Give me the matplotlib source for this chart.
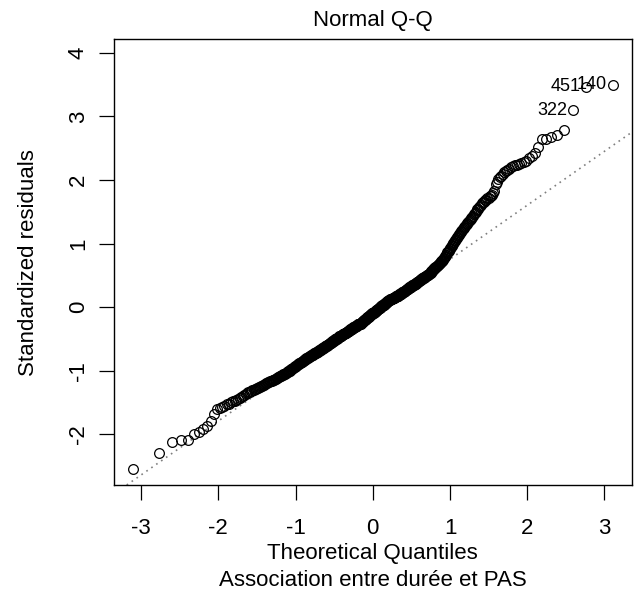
import numpy as np
import matplotlib
matplotlib.use("Agg")
import matplotlib.pyplot as plt
from statistics import NormalDist

# standardized residuals, sorted (n = 530)
std_resid = [
    -2.54, -2.29, -2.13, -2.09, -2.09, -1.99, -1.97, -1.92, -1.87, -1.80, -1.68,
    -1.61, -1.59, -1.57, -1.55, -1.53, -1.52, -1.50,
    -1.485, -1.47, -1.455, -1.44, -1.43, -1.41, -1.40, -1.38, -1.37, -1.35, -1.34,
    -1.33, -1.32, -1.31, -1.30, -1.295, -1.29, -1.28, -1.27, -1.26, -1.25, -1.24,
    -1.235, -1.225, -1.22, -1.21,
    -1.20, -1.19, -1.185, -1.18, -1.17, -1.165, -1.16, -1.15, -1.145, -1.14, -1.13,
    -1.125, -1.12, -1.11, -1.105, -1.10, -1.09, -1.085, -1.08, -1.075,
    -1.07, -1.06, -1.055, -1.05, -1.04, -1.03, -1.025, -1.02, -1.01, -1.005, -1.00,
    -0.99, -0.98, -0.975, -0.97, -0.96, -0.955, -0.95, -0.94, -0.93, -0.925, -0.92,
    -0.91, -0.90, -0.895, -0.89, -0.88,
    -0.885, -0.88, -0.87, -0.865, -0.86, -0.85, -0.845, -0.84, -0.83, -0.825, -0.82,
    -0.81, -0.805, -0.80, -0.795, -0.79, -0.78, -0.775,
    -0.78, -0.77, -0.77, -0.76, -0.76, -0.75, -0.75, -0.74, -0.74, -0.73, -0.73,
    -0.72, -0.72, -0.72, -0.71, -0.71, -0.70, -0.70, -0.69, -0.69, -0.68, -0.68,
    -0.67, -0.67, -0.66, -0.66, -0.65, -0.65, -0.64, -0.64, -0.64, -0.63, -0.63,
    -0.62, -0.62, -0.61, -0.61, -0.60, -0.60, -0.59, -0.59, -0.58, -0.58,
    -0.57, -0.57, -0.57, -0.56, -0.56, -0.55, -0.55, -0.54, -0.54, -0.53, -0.53,
    -0.52, -0.52, -0.51, -0.51, -0.50, -0.50, -0.50, -0.49, -0.49, -0.48, -0.48,
    -0.47, -0.47, -0.46,
    -0.46, -0.46, -0.45, -0.45, -0.45, -0.44, -0.44, -0.43, -0.43, -0.43, -0.42,
    -0.42, -0.41, -0.41, -0.41, -0.40, -0.40, -0.39, -0.39, -0.39, -0.38, -0.38,
    -0.37, -0.37, -0.37, -0.36, -0.36, -0.35, -0.35, -0.35, -0.34, -0.34, -0.33,
    -0.33, -0.33, -0.32, -0.32, -0.31, -0.31, -0.31, -0.30, -0.30, -0.29, -0.29,
    -0.29, -0.28, -0.28, -0.27, -0.27, -0.27, -0.26, -0.26,
    -0.27, -0.26, -0.26, -0.25, -0.25, -0.24, -0.24, -0.23, -0.23, -0.22, -0.22,
    -0.21, -0.21, -0.20, -0.20, -0.19, -0.19, -0.18, -0.18, -0.17, -0.17, -0.16,
    -0.16, -0.15, -0.15, -0.14, -0.14, -0.13, -0.13, -0.12, -0.12, -0.11, -0.11,
    -0.10, -0.10, -0.10,
    -0.10, -0.09, -0.09, -0.08, -0.08, -0.07, -0.07, -0.06, -0.06, -0.05, -0.05,
    -0.04, -0.04, -0.03, -0.03, -0.03, -0.02, -0.02, -0.01, -0.01, 0.00, 0.00,
    0.01, 0.01, 0.02, 0.02, 0.03, 0.03, 0.04, 0.04, 0.04, 0.05, 0.05, 0.06, 0.06,
    0.07, 0.07, 0.08, 0.08, 0.09, 0.09, 0.10, 0.10, 0.11,
    0.11, 0.11, 0.11, 0.12, 0.12, 0.12, 0.13, 0.13, 0.13, 0.14, 0.14, 0.14, 0.15,
    0.15, 0.15, 0.16, 0.16, 0.16, 0.17, 0.17, 0.17,
    0.17, 0.17, 0.18, 0.18, 0.19, 0.19, 0.20, 0.20, 0.20, 0.21, 0.21, 0.22, 0.22,
    0.23, 0.23, 0.24, 0.24, 0.24, 0.25, 0.25, 0.26, 0.26, 0.27, 0.27, 0.28, 0.28,
    0.28, 0.29, 0.29, 0.30, 0.30, 0.31, 0.31, 0.32, 0.32, 0.32, 0.33, 0.33, 0.34, 0.34,
    0.34, 0.35, 0.35, 0.36, 0.36, 0.37, 0.37, 0.38, 0.38, 0.39, 0.39, 0.40, 0.40,
    0.41, 0.41, 0.42, 0.42, 0.43, 0.43, 0.44, 0.44, 0.45, 0.45, 0.46, 0.46, 0.47,
    0.47, 0.48, 0.48, 0.49, 0.49, 0.50, 0.50, 0.51, 0.51, 0.52, 0.52,
    0.53, 0.53, 0.54, 0.55, 0.56, 0.56, 0.575, 0.585, 0.595, 0.60, 0.61, 0.62, 0.63,
    0.63, 0.64, 0.65, 0.66, 0.665, 0.675, 0.685, 0.695, 0.70, 0.71, 0.72, 0.73, 0.73,
    0.74, 0.76, 0.77, 0.785, 0.80, 0.815, 0.825, 0.845, 0.86, 0.87, 0.89, 0.90,
    0.915, 0.935, 0.945, 0.96, 0.98,
    0.99, 1.01, 1.02, 1.04, 1.05, 1.07, 1.09, 1.10, 1.12, 1.13, 1.15, 1.16, 1.18,
    1.20, 1.21,
    1.23, 1.24, 1.26, 1.28, 1.29, 1.31, 1.32, 1.34, 1.36, 1.37, 1.39, 1.40, 1.42,
    1.44, 1.46, 1.48, 1.50, 1.52, 1.54, 1.55, 1.57, 1.59, 1.61, 1.63,
    1.65, 1.66, 1.68, 1.69, 1.71, 1.72, 1.74, 1.75, 1.76,
    1.79, 1.83, 1.93, 1.97, 2.01, 2.04, 2.07, 2.09, 2.12, 2.14, 2.16, 2.18, 2.20,
    2.22, 2.23, 2.24, 2.25, 2.26, 2.28, 2.30, 2.34, 2.38, 2.43, 2.52, 2.65, 2.65,
    2.68, 2.70, 2.79, 3.10, 3.47, 3.50,
]
# observation numbers of the three largest residuals (3rd, 2nd, 1st)
extreme_ids = ["322", "451", "140"]
x_ticks = [-3, -2, -1, 0, 1, 2, 3]
y_ticks = [-2, -1, 0, 1, 2, 3, 4]

plt.rcParams['font.family'] = ['Liberation Sans', 'DejaVu Sans']
plt.rcParams['axes.unicode_minus'] = False

y = np.sort(np.array(std_resid))
n = len(y)
nd = NormalDist()
x = np.array([nd.inv_cdf((i - 0.5) / n) for i in range(1, n + 1)])

fig = plt.figure(figsize=(6.36, 5.96), dpi=100)
left, bottom, width, height = 0.1786, 0.1862, 0.8151, 0.7478
ax = fig.add_axes([left, bottom, width, height])

ax.plot(x, y, 'o', mfc='none', mec='black', ms=7.0, mew=0.9, zorder=3)

# reference line through the quartiles (like qqline)
q1, q3 = np.quantile(y, [0.25, 0.75])
z1, z3 = nd.inv_cdf(0.25), nd.inv_cdf(0.75)
slope = (q3 - q1) / (z3 - z1)
icpt = q1 - slope * z1
ax.axline((0, icpt), slope=slope, color='#7f7f7f', lw=1.2, ls=(0, (1.0, 2.6)), zorder=2)

for k, lab in enumerate(extreme_ids):
    j = n - len(extreme_ids) + k
    ax.annotate(lab, (x[j], y[j]), xytext=(-4, 0), textcoords='offset points',
                ha='right', va='center', fontsize=13)

# R-style limits: 4% padding, extra room on top for labels
xr = x.max() - x.min()
ax.set_xlim(x.min() - 0.04 * xr, x.max() + 0.04 * xr)
ylo, yhi = y.min(), y.max() + 0.075 * (y.max() - y.min())
yr = yhi - ylo
ax.set_ylim(ylo - 0.04 * yr, yhi + 0.04 * yr)

ax.set_xticks(x_ticks)
ax.set_yticks(y_ticks)
ax.tick_params(axis='both', direction='out', length=10.8, width=0.9, labelsize=16)
ax.tick_params(axis='x', pad=13)
ax.tick_params(axis='y', pad=7)
plt.setp(ax.get_yticklabels(), rotation=90, va='center')
for s in ax.spines.values():
    s.set_linewidth(1.0)

cx = left + width / 2
fig.text(cx, 1 - 26 / 596, "Normal Q-Q", ha='center', va='baseline', fontsize=16)
fig.text(cx, 1 - 559.5 / 596, "Theoretical Quantiles", ha='center', va='baseline', fontsize=16)
fig.text(cx, 1 - 586 / 596, "Association entre durée et PAS", ha='center', va='baseline', fontsize=16)
fig.text(29 / 636, bottom + height / 2, "Standardized residuals", rotation=90,
         ha='center', va='center', fontsize=16)

fig.savefig("out.png", dpi=100)
